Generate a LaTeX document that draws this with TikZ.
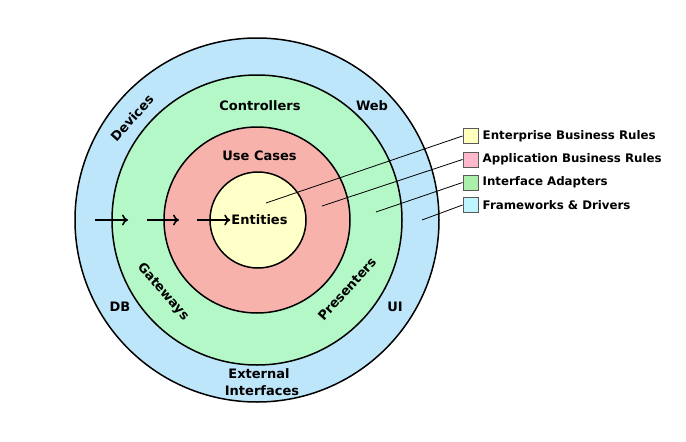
\documentclass[tikz,border=0pt]{standalone}
\usepackage{fontspec}
\setmainfont{DejaVu Sans}
\usetikzlibrary{positioning,arrows.meta}
\definecolor{fwblue}{RGB}{190,230,250}
\definecolor{iagreen}{RGB}{180,248,200}
\definecolor{ucred}{RGB}{248,178,172}
\definecolor{entyellow}{RGB}{255,255,200}
\definecolor{legyellow}{RGB}{255,255,190}
\definecolor{legpink}{RGB}{255,185,200}
\definecolor{leggreen}{RGB}{170,240,170}
\definecolor{legcyan}{RGB}{190,245,255}

\begin{document}
\begin{tikzpicture}
  [x=1pt,y=-1pt,
   ring/.style={circle,draw,line width=1.5pt,inner sep=0pt},
   lbl/.style={font=\bfseries\fontsize{13}{15}\selectfont,inner sep=1pt},
   legbox/.style={draw=black!65,line width=1pt,minimum size=15pt,inner sep=0pt},
   legtext/.style={font=\bfseries\fontsize{11.8}{13}\selectfont,inner sep=0pt,anchor=west},
   flow/.style={line width=1.7pt,-{To[length=6pt,width=11pt,line width=1.6pt]}},
   leader/.style={line width=0.8pt}]
  \useasboundingbox (0,0) rectangle (686,442);

  % rings
  \node (fw) at (257,220) [ring,minimum size=364pt,fill=fwblue] {};
  \node (ia) at (257,220) [ring,minimum size=290pt,fill=iagreen] {};
  \node (uc) at (257,220) [ring,minimum size=186pt,fill=ucred] {};
  \node (en) at (258,220) [ring,minimum size=96pt,fill=entyellow] {};

  % ring labels
  \node (ent)  at (259.5,220) [lbl] {Entities};
  \node (use)  at (259.5,156) [lbl] {Use Cases};
  \node (ctrl) at (260,106)   [lbl] {Controllers};
  \node (web)  at (372,106)   [lbl] {Web};
  \node (dev)  at (132,118)   [lbl,rotate=48] {Devices};
  \node (gate) at (163,292)   [lbl,rotate=-49] {Gateways};
  \node (pres) at (347,289)   [lbl,rotate=48] {Presenters};
  \node (db)   at (120,307)   [lbl] {DB};
  \node (ui)   at (395,307)   [lbl] {UI};
  \node (ext)  at (259,374)   [lbl] {External};
  \node (intf) at (262,391)   [lbl] {Interfaces};

  % dependency arrows
  \coordinate (a1) at (95,220);
  \coordinate (b1) at (128,220);
  \coordinate (a2) at (147,220);
  \coordinate (b2) at (179,220);
  \coordinate (a3) at (197,220);
  \foreach \from/\to in {a1/b1,a2/b2,a3/ent.west}
    \draw [flow] (\from) -- (\to);

  % legend
  \node (lb1) at (470.5,136)   [legbox,fill=legyellow] {};
  \node (lb2) at (470.5,159.5) [legbox,fill=legpink] {};
  \node (lb3) at (470.5,182.5) [legbox,fill=leggreen] {};
  \node (lb4) at (470.5,205)   [legbox,fill=legcyan] {};
  \node (lt1) [legtext,right=4pt of lb1] {Enterprise Business Rules};
  \node (lt2) [legtext,right=4pt of lb2] {Application Business Rules};
  \node (lt3) [legtext,right=4pt of lb3] {Interface Adapters};
  \node (lt4) [legtext,right=4pt of lb4] {Frameworks \& Drivers};

  % leader lines
  \coordinate (p1) at (266,203);
  \coordinate (p2) at (322,206);
  \coordinate (p3) at (376,212);
  \coordinate (p4) at (422,220);
  \foreach \from/\to in {lb1/p1,lb2/p2,lb3/p3,lb4/p4}
    \draw [leader] (\from.west) -- (\to);
\end{tikzpicture}
\end{document}
